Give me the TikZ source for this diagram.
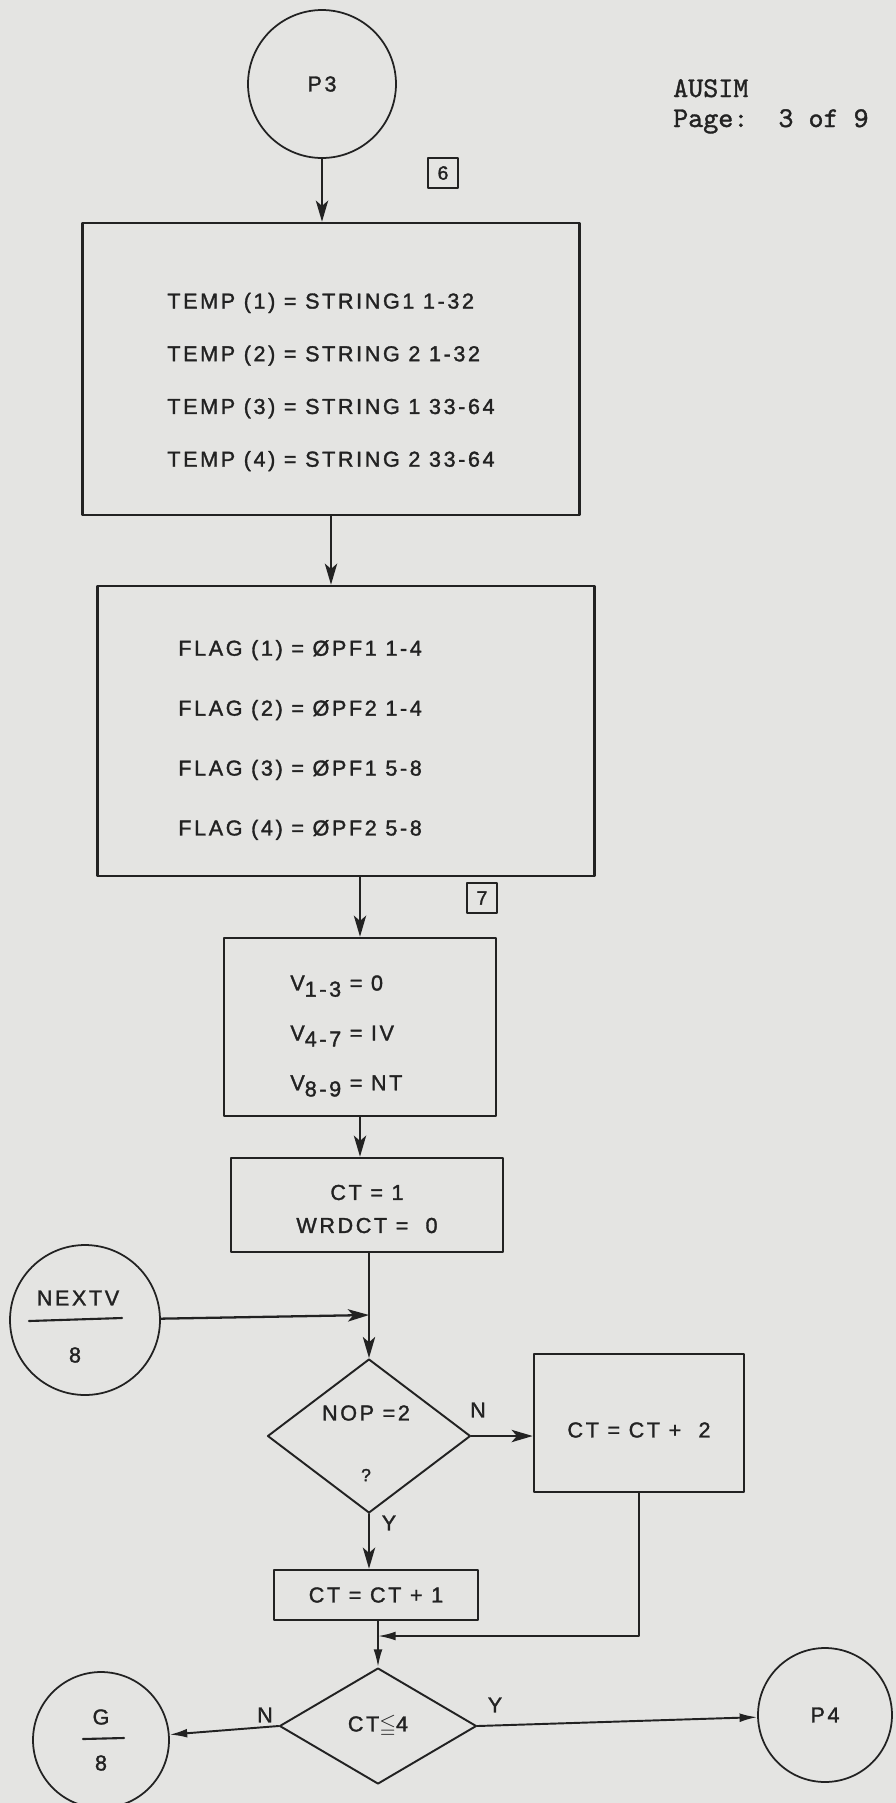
\documentclass[tikz,border=0pt]{standalone}
\usepackage{fontspec}
\usepackage{amssymb}
\setmainfont{Liberation Sans}[LetterSpace=12,FakeBold=1.5]
\setmonofont{lmmono10-regular.otf}[FakeBold=1.2]
\usetikzlibrary{shapes.geometric,arrows.meta}
\definecolor{paper}{RGB}{228,228,226}
\definecolor{ink}{RGB}{34,34,34}
\newcommand\lowr[1]{\raisebox{-3.5pt}{#1}}
\begin{document}
\begin{tikzpicture}[x=0.02cm,y=-0.02cm,line join=round,line cap=round,>={Stealth[length=12pt,width=7pt,inset=3pt]},
	every node/.style={text=ink,font=\fontsize{12.3}{14}\selectfont},
	box/.style={draw=ink,line width=1.5pt,inner sep=0pt},
	txt/.style={inner sep=0pt,anchor=west,align=left,font=\fontsize{12.3}{#1}\selectfont},
	conn/.style={draw=ink,circle,line width=1pt,inner sep=0pt},
	test/.style={draw=ink,diamond,line width=1.1pt,inner sep=0pt},
	flow/.style={->,draw=ink,line width=1.3pt},
	flowb/.style={-{Latex[length=10pt,width=5pt]},draw=ink,line width=1.1pt},
	tag/.style={draw=ink,line width=1pt,inner sep=0pt,minimum size=0.6cm,font=\fontsize{11}{13}\selectfont},
	mono/.style={anchor=base west,font=\ttfamily\fontsize{16.3}{19}\selectfont}]
	\fill[paper] (0,0) rectangle (896,1803);
	\useasboundingbox (0,0) rectangle (896,1803);
	\node[conn,minimum size=2.96cm] (p3) at (322,84) {P3};
	\node[mono] (ausim) at (667,97) {AUSIM};
	\node[mono] (page) at (667,127) {Page:\ \ 3 of 9};
	\node[tag] (six) at (443,173) {6};
	\node[box,minimum width=9.94cm,minimum height=5.84cm] (temp) at (331,369) {};
	\node[txt=30pt] (temptxt) at (167,382)
		{TEMP (1) = STRING1 1-32\\TEMP (2) = STRING 2 1-32\\TEMP (3) = STRING 1 33-64\\TEMP (4) = STRING 2 33-64};
	\node[box,minimum width=9.94cm,minimum height=5.8cm] (flag) at (346,731) {};
	\node[txt=34.1pt] (flagtxt) at (178,740)
		{FLAG (1) = ØPF1 1-4\\FLAG (2) = ØPF2 1-4\\FLAG (3) = ØPF1 5-8\\FLAG (4) = ØPF2 5-8};
	\node[tag] (seven) at (482,898) {7};
	\node[box,minimum width=5.44cm,minimum height=3.56cm] (vset) at (360,1027) {};
	\node[txt=28.4pt] (vsettxt) at (290,1036)
		{V\lowr{1-3} = 0\\V\lowr{4-7} = IV\\V\lowr{8-9} = NT};
	\node[box,minimum width=5.44cm,minimum height=1.88cm] (ctinit) at (367,1205) {};
	\node[align=center,inner sep=0pt,font=\fontsize{12.3}{18.8}\selectfont] (ctinittxt) at (367,1209)
		{CT = 1\\WRDCT =\ \ 0};
	\node[conn,minimum size=3cm] (nextv) at (85,1320) {};
	\node (nextvname) at (78,1298) {NEXTV};
	\node (nextvpage) at (75,1355) {8};
	\draw[ink,line width=1.2pt] (29,1321) -- (122,1318);
	\coordinate (meet) at (369,1315);
	\node[test,minimum width=4.06cm,minimum height=3.08cm] (nop) at (369,1436) {};
	\node (noptxt) at (366,1413) {NOP =2};
	\node[font=\fontsize{10}{12}\selectfont] (nopq) at (366,1475) {?};
	\node (nopn) at (478,1410) {N};
	\node (nopy) at (389,1523) {Y};
	\node[box,minimum width=4.2cm,minimum height=2.76cm] (plus2) at (639,1423) {};
	\node (plus2txt) at (639,1430) {CT = CT +\ \ 2};
	\node[box,minimum width=4.08cm,minimum height=1cm] (plus1) at (376,1595) {CT = CT + 1};
	\coordinate (merge) at (378,1636);
	\node[test,minimum width=3.94cm,minimum height=2.32cm] (cmp) at (378,1726) {CT$\leqq$4};
	\node (cmpn) at (265,1715) {N};
	\node (cmpy) at (495,1705) {Y};
	\node[conn,minimum size=2.72cm] (g) at (101,1740) {};
	\node (gname) at (101,1717) {G};
	\node (gpage) at (101,1763) {8};
	\draw[ink,line width=1.2pt] (83,1739) -- (124,1738);
	\node[conn,minimum size=2.68cm] (p4) at (825,1715) {P4};
	\draw[flow] (p3) -- (p3 |- temp.north);
	\draw[flow] (temp.south) -- (temp.south |- flag.north);
	\draw[flow] (vset.north |- flag.south) -- (vset.north);
	\draw[flow] (vset.south) -- (vset.south |- ctinit.north);
	\draw[flow] (nop.north |- ctinit.south) -- (nop.north);
	\draw[flow] (nextv) -- (meet);
	\draw[flow] (nop.east) -- (nop.east -| plus2.west);
	\draw[flow] (nop.south) -- (nop.south |- plus1.north);
	\draw[flowb] (plus1.south -| cmp.north) -- (cmp.north);
	\draw[flowb] (plus2.south) -- (plus2.south |- merge) -- (merge);
	\draw[flowb] (cmp.west) -- (g);
	\draw[flowb] (cmp.east) -- (p4);
\end{tikzpicture}
\end{document}
